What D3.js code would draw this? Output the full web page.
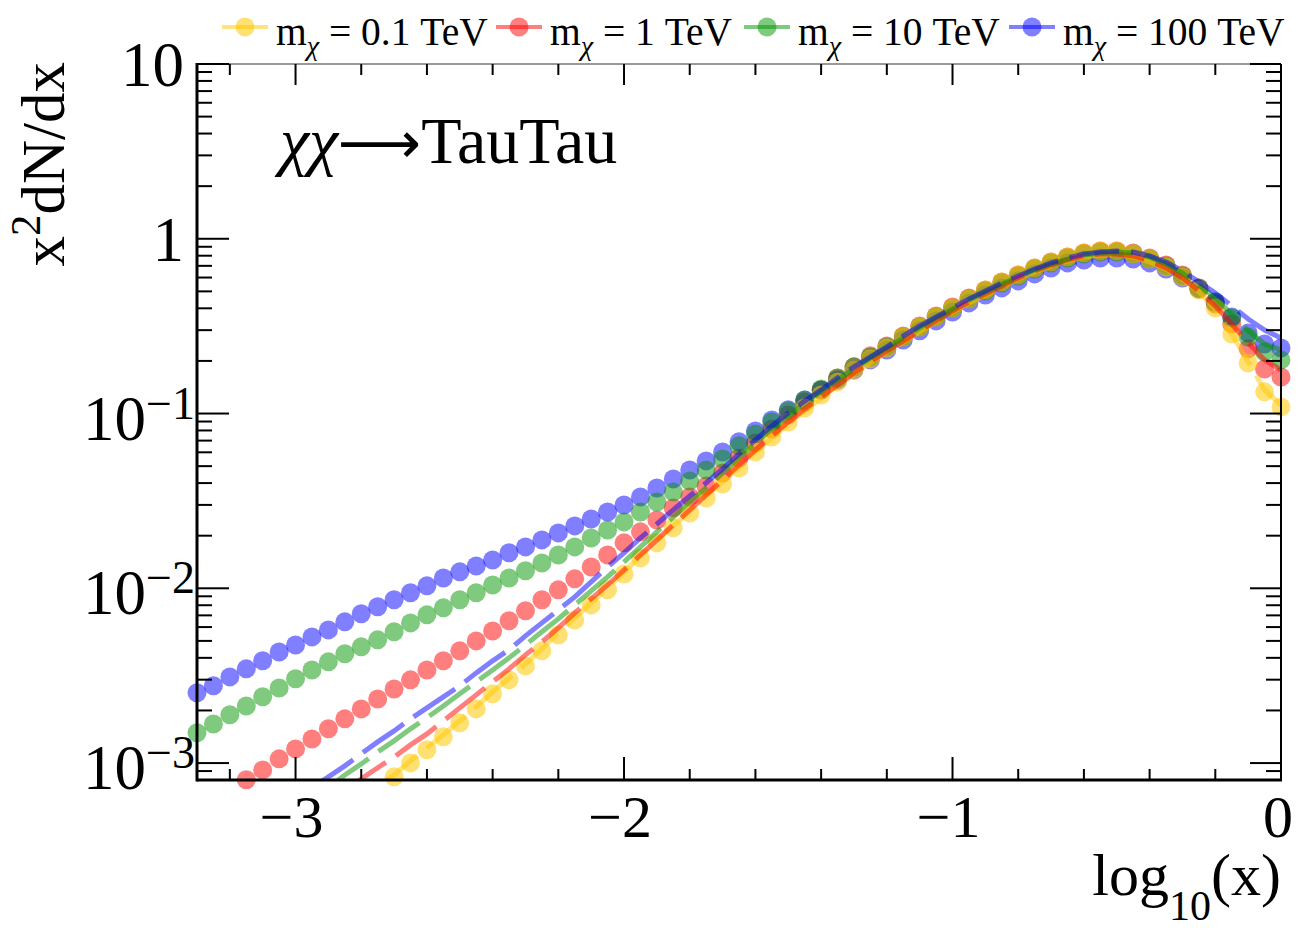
<!DOCTYPE html>
<html lang="en">
<head>
<meta charset="utf-8">
<title>x2dN/dx - TauTau</title>
<script src="https://d3js.org/d3.v7.min.js"></script>
<style>
body { margin: 0; background: #fff; }
svg { font-family: "Liberation Serif", "Times New Roman", serif; }
text { fill: #000; }
.greek { font-style: italic; }
</style>
</head>
<body>
<div id="vis_container"></div>
<script>
// bin centres in log10(x)
var logX = [-3.3,-3.25,-3.2,-3.15,-3.1,-3.05,-3,-2.95,-2.9,-2.85,
  -2.8,-2.75,-2.7,-2.65,-2.6,-2.55,-2.5,-2.45,-2.4,-2.35,
  -2.3,-2.25,-2.2,-2.15,-2.1,-2.05,-2,-1.95,-1.9,-1.85,
  -1.8,-1.75,-1.7,-1.65,-1.6,-1.55,-1.5,-1.45,-1.4,-1.35,
  -1.3,-1.25,-1.2,-1.15,-1.1,-1.05,-1,-0.95,-0.9,-0.85,
  -0.8,-0.75,-0.7,-0.65,-0.6,-0.55,-0.5,-0.45,-0.4,-0.35,
  -0.3,-0.25,-0.2,-0.15,-0.1,-0.05,0];

var masses = ["0.1", "1", "10", "100"];
var colors = ["rgb(255,200,0)", "rgb(255,0,0)", "rgb(0,150,0)", "rgb(0,0,255)"];

// log10(x^2 dN/dx), markers (null = below the frame)
var dots01 = [null,null,null,null,null,null,null,null,null,null,
  null,null,-3.079,-2.999,-2.924,-2.850,-2.770,-2.690,-2.604,-2.524,
  -2.444,-2.358,-2.267,-2.181,-2.095,-2.009,-1.918,-1.826,-1.740,-1.654,
  -1.569,-1.483,-1.403,-1.311,-1.220,-1.134,-1.048,-0.968,-0.894,-0.819,
  -0.751,-0.688,-0.625,-0.562,-0.505,-0.447,-0.396,-0.344,-0.293,-0.247,
  -0.207,-0.167,-0.133,-0.104,-0.081,-0.070,-0.070,-0.087,-0.116,-0.161,
  -0.219,-0.293,-0.396,-0.545,-0.711,-0.876,-0.962];
var dots1 = [null,null,null,-3.096,-3.039,-2.976,-2.919,-2.862,-2.804,-2.747,
  -2.690,-2.633,-2.576,-2.524,-2.467,-2.415,-2.358,-2.301,-2.244,-2.186,
  -2.129,-2.066,-2.009,-1.946,-1.878,-1.809,-1.740,-1.677,-1.609,-1.540,
  -1.477,-1.414,-1.340,-1.254,-1.168,-1.088,-1.008,-0.934,-0.865,-0.796,
  -0.733,-0.670,-0.613,-0.556,-0.499,-0.442,-0.390,-0.339,-0.293,-0.247,
  -0.207,-0.167,-0.133,-0.104,-0.081,-0.070,-0.070,-0.081,-0.110,-0.150,
  -0.207,-0.281,-0.373,-0.487,-0.630,-0.745,-0.791];
var dots10 = [-2.827,-2.776,-2.724,-2.673,-2.621,-2.570,-2.518,-2.467,-2.421,-2.375,
  -2.335,-2.295,-2.249,-2.198,-2.152,-2.112,-2.066,-2.026,-1.981,-1.941,
  -1.900,-1.855,-1.809,-1.763,-1.712,-1.666,-1.620,-1.563,-1.506,-1.449,
  -1.386,-1.323,-1.260,-1.185,-1.117,-1.048,-0.985,-0.922,-0.859,-0.796,
  -0.733,-0.676,-0.619,-0.562,-0.505,-0.447,-0.396,-0.344,-0.299,-0.253,
  -0.213,-0.173,-0.138,-0.110,-0.087,-0.076,-0.076,-0.087,-0.116,-0.156,
  -0.213,-0.281,-0.362,-0.453,-0.562,-0.648,-0.693];
var dots100 = [-2.598,-2.558,-2.507,-2.461,-2.415,-2.364,-2.324,-2.278,-2.238,-2.192,
  -2.146,-2.106,-2.066,-2.026,-1.986,-1.941,-1.906,-1.872,-1.838,-1.797,
  -1.763,-1.723,-1.683,-1.643,-1.603,-1.563,-1.523,-1.477,-1.426,-1.374,
  -1.323,-1.271,-1.220,-1.162,-1.100,-1.037,-0.979,-0.922,-0.865,-0.808,
  -0.751,-0.693,-0.636,-0.579,-0.527,-0.470,-0.419,-0.367,-0.322,-0.281,
  -0.241,-0.201,-0.167,-0.138,-0.121,-0.110,-0.110,-0.116,-0.138,-0.173,
  -0.224,-0.287,-0.362,-0.447,-0.539,-0.602,-0.625];

// log10(x^2 dN/dx), dashed reference curves
var dash01 = [null,null,null,null,null,null,null,null,null,null,
  null,-3.130,-3.068,-2.987,-2.913,-2.839,-2.759,-2.678,-2.593,-2.513,
  -2.432,-2.347,-2.255,-2.169,-2.084,-1.998,-1.906,-1.815,-1.729,-1.643,
  -1.557,-1.471,-1.391,-1.305,-1.220,-1.140,-1.059,-0.985,-0.911,-0.842,
  -0.773,-0.711,-0.648,-0.590,-0.533,-0.476,-0.419,-0.367,-0.322,-0.276,
  -0.230,-0.190,-0.156,-0.127,-0.104,-0.093,-0.093,-0.104,-0.133,-0.173,
  -0.230,-0.304,-0.407,-0.545,-0.705,-0.865,-0.951];
var dash1 = [null,null,null,null,null,null,null,null,null,-3.159,
  -3.090,-3.027,-2.965,-2.896,-2.833,-2.759,-2.684,-2.610,-2.535,-2.461,
  -2.381,-2.307,-2.227,-2.141,-2.061,-1.981,-1.895,-1.809,-1.723,-1.637,
  -1.551,-1.466,-1.380,-1.294,-1.208,-1.128,-1.048,-0.974,-0.905,-0.836,
  -0.768,-0.705,-0.642,-0.585,-0.527,-0.470,-0.413,-0.362,-0.316,-0.270,
  -0.224,-0.184,-0.150,-0.121,-0.098,-0.087,-0.087,-0.098,-0.127,-0.167,
  -0.224,-0.299,-0.384,-0.487,-0.596,-0.693,-0.751];
var dash10 = [null,null,null,null,null,null,null,null,-3.142,-3.068,
  -3.005,-2.936,-2.873,-2.804,-2.741,-2.673,-2.604,-2.535,-2.467,-2.398,
  -2.324,-2.249,-2.175,-2.095,-2.015,-1.935,-1.849,-1.763,-1.677,-1.592,
  -1.506,-1.426,-1.340,-1.254,-1.168,-1.088,-1.014,-0.939,-0.871,-0.808,
  -0.745,-0.682,-0.625,-0.568,-0.510,-0.453,-0.402,-0.350,-0.304,-0.259,
  -0.219,-0.178,-0.144,-0.116,-0.093,-0.081,-0.076,-0.081,-0.104,-0.144,
  -0.196,-0.264,-0.339,-0.430,-0.527,-0.602,-0.636];
var dash100 = [null,null,null,null,null,null,null,-3.142,-3.079,-3.016,
  -2.947,-2.879,-2.816,-2.747,-2.684,-2.621,-2.558,-2.484,-2.415,-2.352,
  -2.272,-2.198,-2.124,-2.049,-1.963,-1.878,-1.797,-1.712,-1.632,-1.551,
  -1.471,-1.397,-1.317,-1.231,-1.151,-1.071,-0.997,-0.928,-0.865,-0.796,
  -0.733,-0.676,-0.619,-0.556,-0.499,-0.447,-0.396,-0.344,-0.299,-0.253,
  -0.213,-0.173,-0.138,-0.110,-0.087,-0.076,-0.070,-0.076,-0.098,-0.133,
  -0.184,-0.247,-0.310,-0.384,-0.459,-0.522,-0.568];

// axis labels
var xTickValues = [-3, -2, -1, 0];
var xTickLabels = ["\u22123", "\u22122", "\u22121", "0"];
var yTickValues = [10, 1, 0.1, 0.01, 0.001];
var yTickBase = ["10", "1", "10", "10", "10"];
var yTickExp = ["", "", "\u22121", "\u22122", "\u22123"];

var dotSeries = [dots01, dots1, dots10, dots100];
var dashSeries = [dash01, dash1, dash10, dash100];

var width = 1298, height = 931;
var frame = {left: 197, right: 1281, top: 64, bottom: 780};

var x = d3.scaleLinear().domain([-3.3, 0]).range([frame.left, frame.right]);
var y = d3.scaleLog().domain([8e-4, 10]).range([frame.bottom, frame.top]);

var svg = d3.select("#vis_container").append("svg")
  .attr("width", width)
  .attr("height", height);

svg.append("rect").attr("width", width).attr("height", height).attr("fill", "#fff");

svg.append("clipPath").attr("id", "frameclip")
  .append("rect")
    .attr("x", frame.left).attr("y", frame.top)
    .attr("width", frame.right - frame.left)
    .attr("height", frame.bottom - frame.top);

function pairs(vals) {
  return logX.map(function(lx, i) { return {lx: lx, v: vals[i]}; });
}

// markers: 1 TeV at the bottom, 0.1 TeV on top
var dotsG = svg.append("g");
[1, 3, 2, 0].forEach(function(k) {
  dotsG.append("g")
    .selectAll("circle")
    .data(pairs(dotSeries[k]).filter(function(d) { return d.v !== null; }))
    .enter().append("circle")
      .attr("cx", function(d) { return x(d.lx); })
      .attr("cy", function(d) { return y(Math.pow(10, d.v)); })
      .attr("r", 9.5)
      .attr("fill", colors[k])
      .attr("fill-opacity", k === 0 ? 0.55 : 0.5);
});

// dashed curves
var line = d3.line()
  .defined(function(d) { return d.v !== null; })
  .x(function(d) { return x(d.lx); })
  .y(function(d) { return y(Math.pow(10, d.v)); });

var dashG = svg.append("g").attr("clip-path", "url(#frameclip)");
[0, 1, 2, 3].forEach(function(k) {
  dashG.append("path")
    .datum(pairs(dashSeries[k]))
    .attr("d", line)
    .attr("fill", "none")
    .attr("stroke", colors[k])
    .attr("stroke-opacity", 0.5)
    .attr("stroke-width", 5)
    .attr("stroke-dasharray", "50,12");
});

// frame
var axes = svg.append("g").attr("stroke", "#000").attr("fill", "none");
axes.append("line")
  .attr("x1", frame.left).attr("x2", frame.right)
  .attr("y1", frame.top).attr("y2", frame.top)
  .attr("stroke", "#999").attr("stroke-width", 2);
axes.append("line")
  .attr("x1", frame.right).attr("x2", frame.right)
  .attr("y1", frame.top).attr("y2", frame.bottom)
  .attr("stroke-width", 2);
axes.append("line")
  .attr("x1", frame.left).attr("x2", frame.left)
  .attr("y1", frame.top - 1).attr("y2", frame.bottom + 1.5)
  .attr("stroke-width", 3);
axes.append("line")
  .attr("x1", frame.left).attr("x2", frame.right + 1)
  .attr("y1", frame.bottom).attr("y2", frame.bottom)
  .attr("stroke-width", 3);

// x ticks, minor every 0.2
var xTicks = d3.range(-16, 1).map(function(i) { return +(i * 0.2).toFixed(1); });
xTicks.forEach(function(t) {
  var major = Math.abs(t - Math.round(t)) < 1e-6;
  axes.append("line")
    .attr("x1", x(t)).attr("x2", x(t))
    .attr("y1", frame.bottom).attr("y2", frame.bottom - (major ? 23 : 11))
    .attr("stroke-width", 2);
  axes.append("line")
    .attr("x1", x(t)).attr("x2", x(t))
    .attr("y1", frame.top).attr("y2", frame.top + (major ? 21 : 11))
    .attr("stroke-width", 2);
});

// y ticks
y.ticks().forEach(function(t) {
  var major = Math.abs(Math.log10(t) - Math.round(Math.log10(t))) < 1e-6;
  axes.append("line")
    .attr("x1", frame.left).attr("x2", frame.left + (major ? 32 : 15))
    .attr("y1", y(t)).attr("y2", y(t))
    .attr("stroke-width", 2);
  axes.append("line")
    .attr("x1", frame.right).attr("x2", frame.right - (major ? 31 : 15))
    .attr("y1", y(t)).attr("y2", y(t))
    .attr("stroke-width", 2);
});

// tick labels
svg.append("g").selectAll("text")
  .data(xTickValues)
  .enter().append("text")
    .attr("x", function(d) { return x(d) - (d === 0 ? 3 : 4); })
    .attr("y", 837)
    .attr("text-anchor", "middle")
    .style("font-size", "60px")
    .text(function(d, i) { return xTickLabels[i]; });

yTickValues.forEach(function(v, i) {
  var hasExp = yTickExp[i] !== "";
  var t = svg.append("text")
    .attr("x", hasExp ? 195 : 184)
    .attr("y", y(v) + (hasExp ? 26 : 22))
    .attr("text-anchor", "end")
    .style("font-size", "63px");
  t.append("tspan").text(yTickBase[i]);
  if (hasExp) {
    t.append("tspan").attr("dy", -21).style("font-size", "46px").text(yTickExp[i]);
  }
});

// axis titles
var xt = svg.append("text")
  .attr("x", 1281).attr("y", 895)
  .attr("text-anchor", "end")
  .style("font-size", "60px");
xt.append("tspan").text("log");
xt.append("tspan").attr("dy", 25).style("font-size", "42px").text("10");
xt.append("tspan").attr("dy", -25).text("(x)");

var yt = svg.append("text")
  .attr("transform", "translate(64,62) rotate(-90)")
  .attr("text-anchor", "end")
  .style("font-size", "61px");
yt.append("tspan").text("x");
yt.append("tspan").attr("dy", -24).style("font-size", "43px").text("2");
yt.append("tspan").attr("dy", 24).text("dN/dx");

// channel label
var title = svg.append("text")
  .attr("x", 280).attr("y", 163)
  .style("font-size", "66px");
title.append("tspan").attr("class", "greek").text("\u03c7\u03c7");
title.append("tspan").style("font-family", "DejaVu Sans").style("font-size", "58px").text("\u27f6");
title.append("tspan").text("TauTau");

// legend
var legendX = [245, 519, 767, 1032];
var legend = svg.append("g");
masses.forEach(function(m, i) {
  var g = legend.append("g");
  g.append("line")
    .attr("x1", legendX[i] - 23).attr("x2", legendX[i] + 23)
    .attr("y1", 27).attr("y2", 27)
    .attr("stroke", colors[i]).attr("stroke-opacity", 0.5)
    .attr("stroke-width", 4);
  g.append("circle")
    .attr("cx", legendX[i]).attr("cy", 27).attr("r", 9.5)
    .attr("fill", colors[i]).attr("fill-opacity", i === 0 ? 0.55 : 0.5);
  var t = g.append("text")
    .attr("x", legendX[i] + 31).attr("y", 45)
    .style("font-size", "39.5px");
  t.append("tspan").text("m");
  t.append("tspan").attr("class", "greek").attr("dy", 10).style("font-size", "28px").text("\u03c7");
  t.append("tspan").attr("dy", -10).text(" = " + m + " TeV");
});
</script>
</body>
</html>
